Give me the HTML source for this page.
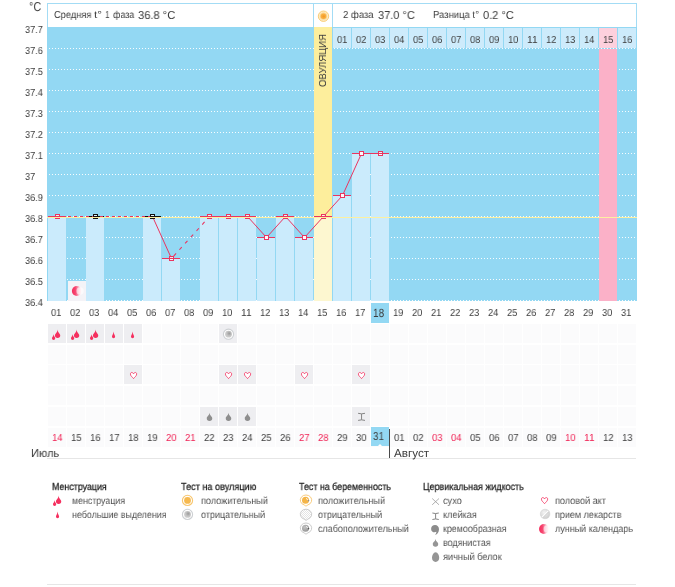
<!DOCTYPE html>
<html><head><meta charset="utf-8"><title>chart</title>
<style>
html,body{margin:0;padding:0;background:#fff;}
body{width:675px;height:587px;position:relative;overflow:hidden;font-family:"Liberation Sans",sans-serif;font-size:10px;color:#3c3c3c;}
.abs{position:absolute;}
.chart{position:absolute;left:0;top:0;}
.t{position:absolute;white-space:pre;transform-origin:0 0;line-height:1;will-change:transform;text-rendering:geometricPrecision;}
.hd{position:absolute;top:3px;height:24px;border:1px solid #a3dcf5;border-bottom:0;background:#fff;box-sizing:border-box;}
.cell{position:absolute;width:18px;height:19px;background:#fbfbfc;}
.cell.on{background:#eeeef1;}
</style></head><body>
<svg class="chart" width="675" height="330" viewBox="0 0 675 330" shape-rendering="crispEdges">
<rect x="47" y="27" width="590" height="274" fill="#93d8f3"/>
<line x1="49" y1="48.5" x2="636" y2="48.5" stroke="#ffffff" stroke-opacity="0.92" stroke-width="1" stroke-dasharray="1 2"/>
<line x1="49" y1="69.5" x2="636" y2="69.5" stroke="#ffffff" stroke-opacity="0.92" stroke-width="1" stroke-dasharray="1 2"/>
<line x1="49" y1="90.5" x2="636" y2="90.5" stroke="#ffffff" stroke-opacity="0.92" stroke-width="1" stroke-dasharray="1 2"/>
<line x1="49" y1="111.5" x2="636" y2="111.5" stroke="#ffffff" stroke-opacity="0.92" stroke-width="1" stroke-dasharray="1 2"/>
<line x1="49" y1="132.5" x2="636" y2="132.5" stroke="#ffffff" stroke-opacity="0.92" stroke-width="1" stroke-dasharray="1 2"/>
<line x1="49" y1="153.5" x2="636" y2="153.5" stroke="#ffffff" stroke-opacity="0.92" stroke-width="1" stroke-dasharray="1 2"/>
<line x1="49" y1="174.5" x2="636" y2="174.5" stroke="#ffffff" stroke-opacity="0.92" stroke-width="1" stroke-dasharray="1 2"/>
<line x1="49" y1="195.5" x2="636" y2="195.5" stroke="#ffffff" stroke-opacity="0.92" stroke-width="1" stroke-dasharray="1 2"/>
<line x1="49" y1="216.5" x2="636" y2="216.5" stroke="#ffffff" stroke-opacity="0.92" stroke-width="1" stroke-dasharray="1 2"/>
<line x1="49" y1="237.5" x2="636" y2="237.5" stroke="#ffffff" stroke-opacity="0.92" stroke-width="1" stroke-dasharray="1 2"/>
<line x1="49" y1="258.5" x2="636" y2="258.5" stroke="#ffffff" stroke-opacity="0.92" stroke-width="1" stroke-dasharray="1 2"/>
<line x1="49" y1="279.5" x2="636" y2="279.5" stroke="#ffffff" stroke-opacity="0.92" stroke-width="1" stroke-dasharray="1 2"/>
<line x1="49" y1="300.5" x2="636" y2="300.5" stroke="#ffffff" stroke-opacity="0.92" stroke-width="1" stroke-dasharray="1 2"/>
<rect x="314" y="27" width="18" height="274" fill="#fdee9c"/>
<rect x="599" y="49" width="18" height="252" fill="#fbb1c8"/>
<rect x="48" y="216" width="18" height="85" fill="#cbebfc"/>
<rect x="86" y="216" width="18" height="85" fill="#cbebfc"/>
<rect x="143" y="216" width="18" height="85" fill="#cbebfc"/>
<rect x="162" y="258" width="18" height="43" fill="#cbebfc"/>
<rect x="200" y="216" width="18" height="85" fill="#cbebfc"/>
<rect x="219" y="216" width="18" height="85" fill="#cbebfc"/>
<rect x="238" y="216" width="18" height="85" fill="#cbebfc"/>
<rect x="257" y="237" width="18" height="64" fill="#cbebfc"/>
<rect x="276" y="216" width="18" height="85" fill="#cbebfc"/>
<rect x="295" y="237" width="18" height="64" fill="#cbebfc"/>
<rect x="314" y="216" width="18" height="85" fill="#fdf7d0"/>
<rect x="333" y="195" width="18" height="106" fill="#cbebfc"/>
<rect x="352" y="153" width="18" height="148" fill="#cbebfc"/>
<rect x="371" y="153" width="18" height="148" fill="#cbebfc"/>
<rect x="333" y="28" width="18" height="20" fill="#cdebfb"/>
<rect x="352" y="28" width="18" height="20" fill="#cdebfb"/>
<rect x="371" y="28" width="18" height="20" fill="#cdebfb"/>
<rect x="390" y="28" width="18" height="20" fill="#cdebfb"/>
<rect x="409" y="28" width="18" height="20" fill="#cdebfb"/>
<rect x="428" y="28" width="18" height="20" fill="#cdebfb"/>
<rect x="447" y="28" width="18" height="20" fill="#cdebfb"/>
<rect x="466" y="28" width="18" height="20" fill="#cdebfb"/>
<rect x="485" y="28" width="18" height="20" fill="#cdebfb"/>
<rect x="504" y="28" width="18" height="20" fill="#cdebfb"/>
<rect x="523" y="28" width="18" height="20" fill="#cdebfb"/>
<rect x="542" y="28" width="18" height="20" fill="#cdebfb"/>
<rect x="561" y="28" width="18" height="20" fill="#cdebfb"/>
<rect x="580" y="28" width="18" height="20" fill="#cdebfb"/>
<rect x="599" y="28" width="18" height="20" fill="#fdd0dd"/>
<rect x="618" y="28" width="18" height="20" fill="#cdebfb"/>
<line x1="47" y1="217.5" x2="637" y2="217.5" stroke="#fdf0a0" stroke-width="1"/>
<line x1="48" y1="216.5" x2="66" y2="216.5" stroke="#ea3560" stroke-width="1"/>
<line x1="86" y1="216.5" x2="104" y2="216.5" stroke="#111" stroke-width="1"/>
<line x1="143" y1="216.5" x2="161" y2="216.5" stroke="#111" stroke-width="1"/>
<line x1="162" y1="258.5" x2="180" y2="258.5" stroke="#ea3560" stroke-width="1"/>
<line x1="200" y1="216.5" x2="218" y2="216.5" stroke="#ea3560" stroke-width="1"/>
<line x1="219" y1="216.5" x2="237" y2="216.5" stroke="#ea3560" stroke-width="1"/>
<line x1="238" y1="216.5" x2="256" y2="216.5" stroke="#ea3560" stroke-width="1"/>
<line x1="257" y1="237.5" x2="275" y2="237.5" stroke="#ea3560" stroke-width="1"/>
<line x1="276" y1="216.5" x2="294" y2="216.5" stroke="#ea3560" stroke-width="1"/>
<line x1="295" y1="237.5" x2="313" y2="237.5" stroke="#ea3560" stroke-width="1"/>
<line x1="314" y1="216.5" x2="332" y2="216.5" stroke="#ea3560" stroke-width="1"/>
<line x1="333" y1="195.5" x2="351" y2="195.5" stroke="#ea3560" stroke-width="1"/>
<line x1="352" y1="153.5" x2="370" y2="153.5" stroke="#ea3560" stroke-width="1"/>
<line x1="371" y1="153.5" x2="389" y2="153.5" stroke="#ea3560" stroke-width="1"/>
</svg>
<svg class="chart" width="675" height="330" viewBox="0 0 675 330">
<line x1="57.5" y1="216.5" x2="95.5" y2="216.5" stroke="#ea3560" stroke-width="1.1" stroke-dasharray="3 3" stroke-dashoffset="1.5" shape-rendering="crispEdges"/>
<line x1="95.5" y1="216.5" x2="152.5" y2="216.5" stroke="#ea3560" stroke-width="1.1" stroke-dasharray="3 3" stroke-dashoffset="1.5" shape-rendering="crispEdges"/>
<line x1="152.5" y1="216.5" x2="171.5" y2="258.5" stroke="#ea3560" stroke-width="1.0"/>
<line x1="171.5" y1="258.5" x2="209.5" y2="216.5" stroke="#ea3560" stroke-width="1.1" stroke-dasharray="3.5 5" stroke-dashoffset="5.2"/>
<line x1="209.5" y1="216.5" x2="228.5" y2="216.5" stroke="#ea3560" stroke-width="1.0"/>
<line x1="228.5" y1="216.5" x2="247.5" y2="216.5" stroke="#ea3560" stroke-width="1.0"/>
<line x1="247.5" y1="216.5" x2="266.5" y2="237.5" stroke="#ea3560" stroke-width="1.0"/>
<line x1="266.5" y1="237.5" x2="285.5" y2="216.5" stroke="#ea3560" stroke-width="1.0"/>
<line x1="285.5" y1="216.5" x2="304.5" y2="237.5" stroke="#ea3560" stroke-width="1.0"/>
<line x1="304.5" y1="237.5" x2="323.5" y2="216.5" stroke="#ea3560" stroke-width="1.0"/>
<line x1="323.5" y1="216.5" x2="342.5" y2="195.5" stroke="#ea3560" stroke-width="1.0"/>
<line x1="342.5" y1="195.5" x2="361.5" y2="153.5" stroke="#ea3560" stroke-width="1.0"/>
<line x1="361.5" y1="153.5" x2="380.5" y2="153.5" stroke="#ea3560" stroke-width="1.0"/>
<rect x="55.5" y="214.5" width="4" height="4" fill="#fff" fill-opacity="0.75" stroke="#ea3560" stroke-width="1" shape-rendering="crispEdges"/>
<line x1="55.5" y1="216.5" x2="59.5" y2="216.5" stroke="#ea3560" stroke-width="1" shape-rendering="crispEdges"/>
<line x1="54.5" y1="217.5" x2="60.5" y2="217.5" stroke="#fdf0a0" stroke-width="1" shape-rendering="crispEdges"/>
<rect x="93.5" y="214.5" width="4" height="4" fill="#fff" fill-opacity="0.75" stroke="#111" stroke-width="1" shape-rendering="crispEdges"/>
<line x1="93.5" y1="216.5" x2="97.5" y2="216.5" stroke="#111" stroke-width="1" shape-rendering="crispEdges"/>
<line x1="92.5" y1="217.5" x2="98.5" y2="217.5" stroke="#fdf0a0" stroke-width="1" shape-rendering="crispEdges"/>
<rect x="150.5" y="214.5" width="4" height="4" fill="#fff" fill-opacity="0.75" stroke="#111" stroke-width="1" shape-rendering="crispEdges"/>
<line x1="150.5" y1="216.5" x2="154.5" y2="216.5" stroke="#111" stroke-width="1" shape-rendering="crispEdges"/>
<line x1="149.5" y1="217.5" x2="155.5" y2="217.5" stroke="#fdf0a0" stroke-width="1" shape-rendering="crispEdges"/>
<rect x="169.5" y="256.5" width="4" height="4" fill="#fff" fill-opacity="0.75" stroke="#ea3560" stroke-width="1" shape-rendering="crispEdges"/>
<line x1="169.5" y1="258.5" x2="173.5" y2="258.5" stroke="#ea3560" stroke-width="1" shape-rendering="crispEdges"/>
<rect x="207.5" y="214.5" width="4" height="4" fill="#fff" fill-opacity="0.75" stroke="#ea3560" stroke-width="1" shape-rendering="crispEdges"/>
<line x1="207.5" y1="216.5" x2="211.5" y2="216.5" stroke="#ea3560" stroke-width="1" shape-rendering="crispEdges"/>
<line x1="206.5" y1="217.5" x2="212.5" y2="217.5" stroke="#fdf0a0" stroke-width="1" shape-rendering="crispEdges"/>
<rect x="226.5" y="214.5" width="4" height="4" fill="#fff" fill-opacity="0.75" stroke="#ea3560" stroke-width="1" shape-rendering="crispEdges"/>
<line x1="226.5" y1="216.5" x2="230.5" y2="216.5" stroke="#ea3560" stroke-width="1" shape-rendering="crispEdges"/>
<line x1="225.5" y1="217.5" x2="231.5" y2="217.5" stroke="#fdf0a0" stroke-width="1" shape-rendering="crispEdges"/>
<rect x="245.5" y="214.5" width="4" height="4" fill="#fff" fill-opacity="0.75" stroke="#ea3560" stroke-width="1" shape-rendering="crispEdges"/>
<line x1="245.5" y1="216.5" x2="249.5" y2="216.5" stroke="#ea3560" stroke-width="1" shape-rendering="crispEdges"/>
<line x1="244.5" y1="217.5" x2="250.5" y2="217.5" stroke="#fdf0a0" stroke-width="1" shape-rendering="crispEdges"/>
<rect x="264.5" y="235.5" width="4" height="4" fill="#fff" fill-opacity="0.95" stroke="#ea3560" stroke-width="1" shape-rendering="crispEdges"/>
<rect x="283.5" y="214.5" width="4" height="4" fill="#fff" fill-opacity="0.75" stroke="#ea3560" stroke-width="1" shape-rendering="crispEdges"/>
<line x1="283.5" y1="216.5" x2="287.5" y2="216.5" stroke="#ea3560" stroke-width="1" shape-rendering="crispEdges"/>
<line x1="282.5" y1="217.5" x2="288.5" y2="217.5" stroke="#fdf0a0" stroke-width="1" shape-rendering="crispEdges"/>
<rect x="302.5" y="235.5" width="4" height="4" fill="#fff" fill-opacity="0.95" stroke="#ea3560" stroke-width="1" shape-rendering="crispEdges"/>
<rect x="321.5" y="214.5" width="4" height="4" fill="#fff" fill-opacity="0.75" stroke="#ea3560" stroke-width="1" shape-rendering="crispEdges"/>
<line x1="321.5" y1="216.5" x2="325.5" y2="216.5" stroke="#ea3560" stroke-width="1" shape-rendering="crispEdges"/>
<line x1="320.5" y1="217.5" x2="326.5" y2="217.5" stroke="#fdf0a0" stroke-width="1" shape-rendering="crispEdges"/>
<rect x="340.5" y="193.5" width="4" height="4" fill="#fff" fill-opacity="0.95" stroke="#ea3560" stroke-width="1" shape-rendering="crispEdges"/>
<rect x="359.5" y="151.5" width="4" height="4" fill="#fff" fill-opacity="0.95" stroke="#ea3560" stroke-width="1" shape-rendering="crispEdges"/>
<rect x="378.5" y="151.5" width="4" height="4" fill="#fff" fill-opacity="0.75" stroke="#ea3560" stroke-width="1" shape-rendering="crispEdges"/>
<line x1="378.5" y1="153.5" x2="382.5" y2="153.5" stroke="#ea3560" stroke-width="1" shape-rendering="crispEdges"/>
</svg>
<div class="hd" style="left:47px;width:267px;"></div>
<div class="hd" style="left:313px;width:20px;"></div>
<div class="hd" style="left:332px;width:305px;"></div>
<div class="abs" style="left:371px;top:303px;width:18px;height:20px;background:#93d8f3;"></div>
<div class="cell on" style="left:48px;top:324px"></div>
<div class="cell on" style="left:67px;top:324px"></div>
<div class="cell on" style="left:86px;top:324px"></div>
<div class="cell on" style="left:105px;top:324px"></div>
<div class="cell on" style="left:124px;top:324px"></div>
<div class="cell" style="left:143px;top:324px"></div>
<div class="cell" style="left:162px;top:324px"></div>
<div class="cell" style="left:181px;top:324px"></div>
<div class="cell" style="left:200px;top:324px"></div>
<div class="cell on" style="left:219px;top:324px"></div>
<div class="cell" style="left:238px;top:324px"></div>
<div class="cell" style="left:257px;top:324px"></div>
<div class="cell" style="left:276px;top:324px"></div>
<div class="cell" style="left:295px;top:324px"></div>
<div class="cell" style="left:314px;top:324px"></div>
<div class="cell" style="left:333px;top:324px"></div>
<div class="cell" style="left:352px;top:324px"></div>
<div class="cell" style="left:371px;top:324px"></div>
<div class="cell" style="left:390px;top:324px"></div>
<div class="cell" style="left:409px;top:324px"></div>
<div class="cell" style="left:428px;top:324px"></div>
<div class="cell" style="left:447px;top:324px"></div>
<div class="cell" style="left:466px;top:324px"></div>
<div class="cell" style="left:485px;top:324px"></div>
<div class="cell" style="left:504px;top:324px"></div>
<div class="cell" style="left:523px;top:324px"></div>
<div class="cell" style="left:542px;top:324px"></div>
<div class="cell" style="left:561px;top:324px"></div>
<div class="cell" style="left:580px;top:324px"></div>
<div class="cell" style="left:599px;top:324px"></div>
<div class="cell" style="left:618px;top:324px"></div>
<div class="cell" style="left:48px;top:345px"></div>
<div class="cell" style="left:67px;top:345px"></div>
<div class="cell" style="left:86px;top:345px"></div>
<div class="cell" style="left:105px;top:345px"></div>
<div class="cell" style="left:124px;top:345px"></div>
<div class="cell" style="left:143px;top:345px"></div>
<div class="cell" style="left:162px;top:345px"></div>
<div class="cell" style="left:181px;top:345px"></div>
<div class="cell" style="left:200px;top:345px"></div>
<div class="cell" style="left:219px;top:345px"></div>
<div class="cell" style="left:238px;top:345px"></div>
<div class="cell" style="left:257px;top:345px"></div>
<div class="cell" style="left:276px;top:345px"></div>
<div class="cell" style="left:295px;top:345px"></div>
<div class="cell" style="left:314px;top:345px"></div>
<div class="cell" style="left:333px;top:345px"></div>
<div class="cell" style="left:352px;top:345px"></div>
<div class="cell" style="left:371px;top:345px"></div>
<div class="cell" style="left:390px;top:345px"></div>
<div class="cell" style="left:409px;top:345px"></div>
<div class="cell" style="left:428px;top:345px"></div>
<div class="cell" style="left:447px;top:345px"></div>
<div class="cell" style="left:466px;top:345px"></div>
<div class="cell" style="left:485px;top:345px"></div>
<div class="cell" style="left:504px;top:345px"></div>
<div class="cell" style="left:523px;top:345px"></div>
<div class="cell" style="left:542px;top:345px"></div>
<div class="cell" style="left:561px;top:345px"></div>
<div class="cell" style="left:580px;top:345px"></div>
<div class="cell" style="left:599px;top:345px"></div>
<div class="cell" style="left:618px;top:345px"></div>
<div class="cell" style="left:48px;top:365px"></div>
<div class="cell" style="left:67px;top:365px"></div>
<div class="cell" style="left:86px;top:365px"></div>
<div class="cell" style="left:105px;top:365px"></div>
<div class="cell on" style="left:124px;top:365px"></div>
<div class="cell" style="left:143px;top:365px"></div>
<div class="cell" style="left:162px;top:365px"></div>
<div class="cell" style="left:181px;top:365px"></div>
<div class="cell" style="left:200px;top:365px"></div>
<div class="cell on" style="left:219px;top:365px"></div>
<div class="cell on" style="left:238px;top:365px"></div>
<div class="cell" style="left:257px;top:365px"></div>
<div class="cell" style="left:276px;top:365px"></div>
<div class="cell on" style="left:295px;top:365px"></div>
<div class="cell" style="left:314px;top:365px"></div>
<div class="cell" style="left:333px;top:365px"></div>
<div class="cell on" style="left:352px;top:365px"></div>
<div class="cell" style="left:371px;top:365px"></div>
<div class="cell" style="left:390px;top:365px"></div>
<div class="cell" style="left:409px;top:365px"></div>
<div class="cell" style="left:428px;top:365px"></div>
<div class="cell" style="left:447px;top:365px"></div>
<div class="cell" style="left:466px;top:365px"></div>
<div class="cell" style="left:485px;top:365px"></div>
<div class="cell" style="left:504px;top:365px"></div>
<div class="cell" style="left:523px;top:365px"></div>
<div class="cell" style="left:542px;top:365px"></div>
<div class="cell" style="left:561px;top:365px"></div>
<div class="cell" style="left:580px;top:365px"></div>
<div class="cell" style="left:599px;top:365px"></div>
<div class="cell" style="left:618px;top:365px"></div>
<div class="cell" style="left:48px;top:386px"></div>
<div class="cell" style="left:67px;top:386px"></div>
<div class="cell" style="left:86px;top:386px"></div>
<div class="cell" style="left:105px;top:386px"></div>
<div class="cell" style="left:124px;top:386px"></div>
<div class="cell" style="left:143px;top:386px"></div>
<div class="cell" style="left:162px;top:386px"></div>
<div class="cell" style="left:181px;top:386px"></div>
<div class="cell" style="left:200px;top:386px"></div>
<div class="cell" style="left:219px;top:386px"></div>
<div class="cell" style="left:238px;top:386px"></div>
<div class="cell" style="left:257px;top:386px"></div>
<div class="cell" style="left:276px;top:386px"></div>
<div class="cell" style="left:295px;top:386px"></div>
<div class="cell" style="left:314px;top:386px"></div>
<div class="cell" style="left:333px;top:386px"></div>
<div class="cell" style="left:352px;top:386px"></div>
<div class="cell" style="left:371px;top:386px"></div>
<div class="cell" style="left:390px;top:386px"></div>
<div class="cell" style="left:409px;top:386px"></div>
<div class="cell" style="left:428px;top:386px"></div>
<div class="cell" style="left:447px;top:386px"></div>
<div class="cell" style="left:466px;top:386px"></div>
<div class="cell" style="left:485px;top:386px"></div>
<div class="cell" style="left:504px;top:386px"></div>
<div class="cell" style="left:523px;top:386px"></div>
<div class="cell" style="left:542px;top:386px"></div>
<div class="cell" style="left:561px;top:386px"></div>
<div class="cell" style="left:580px;top:386px"></div>
<div class="cell" style="left:599px;top:386px"></div>
<div class="cell" style="left:618px;top:386px"></div>
<div class="cell" style="left:48px;top:407px"></div>
<div class="cell" style="left:67px;top:407px"></div>
<div class="cell" style="left:86px;top:407px"></div>
<div class="cell" style="left:105px;top:407px"></div>
<div class="cell" style="left:124px;top:407px"></div>
<div class="cell" style="left:143px;top:407px"></div>
<div class="cell" style="left:162px;top:407px"></div>
<div class="cell" style="left:181px;top:407px"></div>
<div class="cell on" style="left:200px;top:407px"></div>
<div class="cell on" style="left:219px;top:407px"></div>
<div class="cell on" style="left:238px;top:407px"></div>
<div class="cell" style="left:257px;top:407px"></div>
<div class="cell" style="left:276px;top:407px"></div>
<div class="cell" style="left:295px;top:407px"></div>
<div class="cell" style="left:314px;top:407px"></div>
<div class="cell" style="left:333px;top:407px"></div>
<div class="cell on" style="left:352px;top:407px"></div>
<div class="cell" style="left:371px;top:407px"></div>
<div class="cell" style="left:390px;top:407px"></div>
<div class="cell" style="left:409px;top:407px"></div>
<div class="cell" style="left:428px;top:407px"></div>
<div class="cell" style="left:447px;top:407px"></div>
<div class="cell" style="left:466px;top:407px"></div>
<div class="cell" style="left:485px;top:407px"></div>
<div class="cell" style="left:504px;top:407px"></div>
<div class="cell" style="left:523px;top:407px"></div>
<div class="cell" style="left:542px;top:407px"></div>
<div class="cell" style="left:561px;top:407px"></div>
<div class="cell" style="left:580px;top:407px"></div>
<div class="cell" style="left:599px;top:407px"></div>
<div class="cell" style="left:618px;top:407px"></div>
<div class="cell" style="left:48px;top:428px"></div>
<div class="cell" style="left:67px;top:428px"></div>
<div class="cell" style="left:86px;top:428px"></div>
<div class="cell" style="left:105px;top:428px"></div>
<div class="cell" style="left:124px;top:428px"></div>
<div class="cell" style="left:143px;top:428px"></div>
<div class="cell" style="left:162px;top:428px"></div>
<div class="cell" style="left:181px;top:428px"></div>
<div class="cell" style="left:200px;top:428px"></div>
<div class="cell" style="left:219px;top:428px"></div>
<div class="cell" style="left:238px;top:428px"></div>
<div class="cell" style="left:257px;top:428px"></div>
<div class="cell" style="left:276px;top:428px"></div>
<div class="cell" style="left:295px;top:428px"></div>
<div class="cell" style="left:314px;top:428px"></div>
<div class="cell" style="left:333px;top:428px"></div>
<div class="cell" style="left:352px;top:428px"></div>
<div class="cell" style="left:371px;top:428px"></div>
<div class="cell" style="left:390px;top:428px"></div>
<div class="cell" style="left:409px;top:428px"></div>
<div class="cell" style="left:428px;top:428px"></div>
<div class="cell" style="left:447px;top:428px"></div>
<div class="cell" style="left:466px;top:428px"></div>
<div class="cell" style="left:485px;top:428px"></div>
<div class="cell" style="left:504px;top:428px"></div>
<div class="cell" style="left:523px;top:428px"></div>
<div class="cell" style="left:542px;top:428px"></div>
<div class="cell" style="left:561px;top:428px"></div>
<div class="cell" style="left:580px;top:428px"></div>
<div class="cell" style="left:599px;top:428px"></div>
<div class="cell" style="left:618px;top:428px"></div>
<div class="abs" style="left:371px;top:427px;width:18px;height:19px;background:#93d8f3;"></div>
<div class="abs" style="left:377.5px;top:444px;width:0;height:0;border-left:2.5px solid transparent;border-right:2.5px solid transparent;border-bottom:2.5px solid #fff;"></div>
<div class="abs" style="left:389px;top:429px;width:1px;height:29px;background:#4a4a4a;"></div>
<div class="abs" style="left:47px;top:458px;width:589px;height:1px;background:#e6e6e6;"></div>
<div class="abs" style="left:47px;top:584px;width:589px;height:1px;background:#e6e6e6;"></div>
<div class="abs" style="left:68px;top:281px;width:18px;height:20px;background:#f4f3f7;"></div>
<svg class="chart" width="675" height="587" viewBox="0 0 675 587"><defs><radialGradient id="gneg" cx="0.6" cy="0.4" r="0.7"><stop offset="0" stop-color="#9a9a9a"/><stop offset="0.5" stop-color="#c2c2c2"/><stop offset="1" stop-color="#d4d4d4"/></radialGradient><linearGradient id="gmoon" x1="0" x2="1" y1="0" y2="0" gradientUnits="objectBoundingBox"><stop offset="0" stop-color="#f5305f"/><stop offset="0.35" stop-color="#f6446f"/><stop offset="0.7" stop-color="#fbb3c4"/><stop offset="1" stop-color="#fff5f7"/></linearGradient><filter id="soft" x="-20%" y="-20%" width="140%" height="140%"><feGaussianBlur stdDeviation="0.35"/></filter><radialGradient id="gpill" cx="0.4" cy="0.35" r="0.75"><stop offset="0" stop-color="#f4f4f4"/><stop offset="1" stop-color="#c9c9c9"/></radialGradient><radialGradient id="gweak" cx="0.4" cy="0.35" r="0.75"><stop offset="0" stop-color="#c4c4c4"/><stop offset="1" stop-color="#8f8f8f"/></radialGradient><pattern id="chk" width="2" height="2" patternUnits="userSpaceOnUse"><rect width="2" height="2" fill="#fff"/><rect width="1" height="1" fill="#e4e4e4"/><rect x="1" y="1" width="1" height="1" fill="#e4e4e4"/></pattern></defs><path d="M53.60 334.20 C53.95 336.69 55.25 337.11 55.25 338.35 A1.65 1.65 0 0 1 51.95 338.35 C51.95 337.11 53.25 336.69 53.60 334.20Z" fill="#f5305f"/><path d="M57.60 329.40 C57.95 332.97 60.25 333.36 60.25 335.35 A2.65 2.65 0 0 1 54.95 335.35 C54.95 333.36 57.25 332.97 57.60 329.40Z" fill="#f5305f"/><path d="M72.60 334.20 C72.95 336.69 74.25 337.11 74.25 338.35 A1.65 1.65 0 0 1 70.95 338.35 C70.95 337.11 72.25 336.69 72.60 334.20Z" fill="#f5305f"/><path d="M76.60 329.40 C76.95 332.97 79.25 333.36 79.25 335.35 A2.65 2.65 0 0 1 73.95 335.35 C73.95 333.36 76.25 332.97 76.60 329.40Z" fill="#f5305f"/><path d="M91.60 334.20 C91.95 336.69 93.25 337.11 93.25 338.35 A1.65 1.65 0 0 1 89.95 338.35 C89.95 337.11 91.25 336.69 91.60 334.20Z" fill="#f5305f"/><path d="M95.60 329.40 C95.95 332.97 98.25 333.36 98.25 335.35 A2.65 2.65 0 0 1 92.95 335.35 C92.95 333.36 95.25 332.97 95.60 329.40Z" fill="#f5305f"/><path d="M113.55 331.60 C113.90 334.60 115.15 335.40 115.15 336.60 A1.60 1.60 0 0 1 111.95 336.60 C111.95 335.40 113.20 334.60 113.55 331.60Z" fill="#f5305f"/><path d="M132.55 331.60 C132.90 334.60 134.15 335.40 134.15 336.60 A1.60 1.60 0 0 1 130.95 336.60 C130.95 335.40 132.20 334.60 132.55 331.60Z" fill="#f5305f"/><circle cx="228.5" cy="334.2" r="5.1" fill="#fff" stroke="#cdd0d3" stroke-width="1.1"/><circle cx="228.5" cy="334.2" r="3.4" fill="url(#gneg)"/><path d="M133.55 373.9 C133.15 372.3 130.45000000000002 371.7 130.45000000000002 374.1 C130.45000000000002 376 132.55 377.2 133.55 378.6 C134.55 377.2 136.65 376 136.65 374.1 C136.65 371.7 133.95000000000002 372.3 133.55 373.9Z" fill="#fff" stroke="#f4456f" stroke-width="0.95" stroke-linejoin="round"/><path d="M228.55 373.9 C228.15 372.3 225.45000000000002 371.7 225.45000000000002 374.1 C225.45000000000002 376 227.55 377.2 228.55 378.6 C229.55 377.2 231.65 376 231.65 374.1 C231.65 371.7 228.95000000000002 372.3 228.55 373.9Z" fill="#fff" stroke="#f4456f" stroke-width="0.95" stroke-linejoin="round"/><path d="M247.55 373.9 C247.15 372.3 244.45000000000002 371.7 244.45000000000002 374.1 C244.45000000000002 376 246.55 377.2 247.55 378.6 C248.55 377.2 250.65 376 250.65 374.1 C250.65 371.7 247.95000000000002 372.3 247.55 373.9Z" fill="#fff" stroke="#f4456f" stroke-width="0.95" stroke-linejoin="round"/><path d="M304.55 373.9 C304.15000000000003 372.3 301.45 371.7 301.45 374.1 C301.45 376 303.55 377.2 304.55 378.6 C305.55 377.2 307.65000000000003 376 307.65000000000003 374.1 C307.65000000000003 371.7 304.95 372.3 304.55 373.9Z" fill="#fff" stroke="#f4456f" stroke-width="0.95" stroke-linejoin="round"/><path d="M361.55 373.9 C361.15000000000003 372.3 358.45 371.7 358.45 374.1 C358.45 376 360.55 377.2 361.55 378.6 C362.55 377.2 364.65000000000003 376 364.65000000000003 374.1 C364.65000000000003 371.7 361.95 372.3 361.55 373.9Z" fill="#fff" stroke="#f4456f" stroke-width="0.95" stroke-linejoin="round"/><path d="M209.50 412.70 C209.85 415.97 212.25 416.09 212.25 418.15 A2.75 2.75 0 0 1 206.75 418.15 C206.75 416.09 209.15 415.97 209.50 412.70Z" fill="#8e8e8e"/><path d="M228.50 412.70 C228.85 415.97 231.25 416.09 231.25 418.15 A2.75 2.75 0 0 1 225.75 418.15 C225.75 416.09 228.15 415.97 228.50 412.70Z" fill="#8e8e8e"/><path d="M247.50 412.70 C247.85 415.97 250.25 416.09 250.25 418.15 A2.75 2.75 0 0 1 244.75 418.15 C244.75 416.09 247.15 415.97 247.50 412.70Z" fill="#8e8e8e"/><path d="M358.1 413.3 Q361.55 414.40000000000003 365 413.3 M358.1 420.4 Q361.55 419.29999999999995 365 420.4 M361.55 413.90000000000003 V419.79999999999995" fill="none" stroke="#858585" stroke-width="1"/><g filter="url(#soft)"><circle cx="76.8" cy="291" r="4.9" fill="url(#gmoon)"/><circle cx="80.1" cy="291" r="3.63" fill="#fff" fill-opacity="0.6"/></g><path d="M54.60 500.20 C54.95 502.69 56.25 503.11 56.25 504.35 A1.65 1.65 0 0 1 52.95 504.35 C52.95 503.11 54.25 502.69 54.60 500.20Z" fill="#f5305f"/><path d="M58.60 495.40 C58.95 498.97 61.25 499.36 61.25 501.35 A2.65 2.65 0 0 1 55.95 501.35 C55.95 499.36 58.25 498.97 58.60 495.40Z" fill="#f5305f"/><path d="M57.55 511.60 C57.90 514.60 59.15 515.40 59.15 516.60 A1.60 1.60 0 0 1 55.95 516.60 C55.95 515.40 57.20 514.60 57.55 511.60Z" fill="#f5305f"/><circle cx="187.5" cy="500.4" r="5.1" fill="#fff" stroke="#f8c66f" stroke-width="1.1"/><circle cx="187.5" cy="500.4" r="3.4" fill="#f6b94f"/><circle cx="187.5" cy="514.4" r="5.1" fill="#fff" stroke="#cdd0d3" stroke-width="1.1"/><circle cx="187.5" cy="514.4" r="3.4" fill="url(#gneg)"/><path d="M306 506.2 L304.1 504.90 A5.7 5.1 0 1 1 307.9 504.90 Z" fill="#fff" stroke="#f8c66f" stroke-width="0.9" stroke-linejoin="round"/><circle cx="305.5" cy="500.3" r="3.5" fill="#f5b547"/><path d="M306 498.40000000000003 q1.6 0.2 1.6 1.9" fill="none" stroke="#fff" stroke-width="0.8"/><circle cx="308.5" cy="500.6" r="0.8" fill="#9a8f80"/><path d="M306 520.4 L304.1 519.10 A5.7 5.1 0 1 1 307.9 519.10 Z" fill="url(#chk)" stroke="#c6c6c6" stroke-width="0.9" stroke-linejoin="round"/><path d="M306 534.1999999999999 L304.1 532.90 A5.7 5.1 0 1 1 307.9 532.90 Z" fill="#fff" stroke="#c6c6c6" stroke-width="0.9" stroke-linejoin="round"/><circle cx="305.5" cy="528.3" r="3.5" fill="url(#gweak)"/><path d="M306 526.4 q1.6 0.2 1.6 1.9" fill="none" stroke="#fff" stroke-width="0.8"/><circle cx="308.5" cy="528.5999999999999" r="0.8" fill="#555"/><path d="M432.2 498.5 L439 504.8 M439 498.5 L432.2 504.8" stroke="#9c9c9c" stroke-width="0.8" fill="none"/><path d="M432.4 513 Q435.6 514.1 438.8 513 M432.4 519.5 Q435.6 518.4 438.8 519.5 M435.6 513.6 V518.9" fill="none" stroke="#858585" stroke-width="1"/><path d="M431.1 528.9 C431.1 526.4 432.8 524.9 435 524.9 C437.4 524.9 439 526.6 439 529.2 C439 532.2 437.4 534.2 435.1 534.9 C436 533.8 436.5 532.9 436.3 531.8 C434.8 532.9 431.1 532.3 431.1 528.9Z" fill="#8c8c8c"/><path d="M435.50 538.80 C435.85 541.98 438.20 542.07 438.20 544.10 A2.70 2.70 0 0 1 432.80 544.10 C432.80 542.07 435.15 541.98 435.50 538.80Z" fill="#959595"/><path d="M435.6 552.2 C437.8 552.2 439.2 555.6 439.2 557.8 C439.2 560.3 437.7 561.9 435.6 561.9 C433.5 561.9 432 560.3 432 557.8 C432 555.6 433.4 552.2 435.6 552.2Z" fill="#959595"/><path d="M544.55 499.0 C544.15 497.40000000000003 541.4499999999999 496.8 541.4499999999999 499.20000000000005 C541.4499999999999 501.1 543.55 502.3 544.55 503.70000000000005 C545.55 502.3 547.65 501.1 547.65 499.20000000000005 C547.65 496.8 544.9499999999999 497.40000000000003 544.55 499.0Z" fill="#fff" stroke="#f4456f" stroke-width="0.95" stroke-linejoin="round"/><circle cx="545.1" cy="514" r="4.8" fill="url(#gpill)" stroke="#cfcfcf" stroke-width="0.5"/><path d="M542 517.2 L548.3 510.9" stroke="#fff" stroke-width="1.3"/><path d="M542.6 517.8 L548.9 511.5" stroke="#bdbdbd" stroke-width="0.6"/><g filter="url(#soft)"><circle cx="543.9" cy="529" r="4.9" fill="url(#gmoon)"/><circle cx="547.1999999999999" cy="529" r="3.63" fill="#fff" fill-opacity="0.6"/></g></svg>
<svg class="chart" width="675" height="40" viewBox="0 0 675 40"><circle cx="323.5" cy="16.2" r="5.2" fill="#fdebc4" stroke="#f9c769" stroke-width="0.9"/><circle cx="323.5" cy="16.2" r="3.6" fill="#fbd38c"/><circle cx="323.5" cy="16.2" r="2.7" fill="#f8ad3c"/><circle cx="323.7" cy="16.4" r="1.2" fill="#f39a2a"/></svg>
<div class="abs" style="left:327.2px;top:87.4px;width:0;height:0;"><div class="t" id="ov" style="left:0;top:0;font-size:10.2px;transform:rotate(-90deg) scaleX(0.9316);transform-origin:0 0;"><span style="position:relative;top:-0.8em;">ОВУЛЯЦИЯ</span></div></div>
<div class="t" style="left:28.55px;top:0.20px;font-size:13px;color:#3c3c3c;transform:scaleX(0.8291);">°C</div>
<div class="t" style="left:24.65px;top:25.67px;font-size:10.2px;color:#3c3c3c;transform:scaleX(0.8977);">37.7</div>
<div class="t" style="left:24.65px;top:46.67px;font-size:10.2px;color:#3c3c3c;transform:scaleX(0.8977);">37.6</div>
<div class="t" style="left:24.65px;top:67.67px;font-size:10.2px;color:#3c3c3c;transform:scaleX(0.8977);">37.5</div>
<div class="t" style="left:24.65px;top:88.67px;font-size:10.2px;color:#3c3c3c;transform:scaleX(0.8977);">37.4</div>
<div class="t" style="left:24.65px;top:109.67px;font-size:10.2px;color:#3c3c3c;transform:scaleX(0.8977);">37.3</div>
<div class="t" style="left:24.65px;top:130.67px;font-size:10.2px;color:#3c3c3c;transform:scaleX(0.8977);">37.2</div>
<div class="t" style="left:24.65px;top:151.67px;font-size:10.2px;color:#3c3c3c;transform:scaleX(0.8977);">37.1</div>
<div class="t" style="left:24.65px;top:172.67px;font-size:10.2px;color:#3c3c3c;transform:scaleX(0.8904);">37</div>
<div class="t" style="left:24.65px;top:193.67px;font-size:10.2px;color:#3c3c3c;transform:scaleX(0.8977);">36.9</div>
<div class="t" style="left:24.65px;top:214.67px;font-size:10.2px;color:#3c3c3c;transform:scaleX(0.8977);">36.8</div>
<div class="t" style="left:24.65px;top:235.67px;font-size:10.2px;color:#3c3c3c;transform:scaleX(0.8977);">36.7</div>
<div class="t" style="left:24.65px;top:256.67px;font-size:10.2px;color:#3c3c3c;transform:scaleX(0.8977);">36.6</div>
<div class="t" style="left:24.65px;top:277.67px;font-size:10.2px;color:#3c3c3c;transform:scaleX(0.8977);">36.5</div>
<div class="t" style="left:24.65px;top:298.67px;font-size:10.2px;color:#3c3c3c;transform:scaleX(0.8977);">36.4</div>
<div class="t" style="left:54.25px;top:11.37px;font-size:10.2px;color:#3c3c3c;transform:scaleX(0.9105);">Средняя</div>
<div class="t" style="left:93.95px;top:11.37px;font-size:10.2px;color:#3c3c3c;transform:scaleX(1.1584);">t°</div>
<div class="t" style="left:105.35px;top:11.37px;font-size:10.2px;color:#3c3c3c;transform:scaleX(0.8110);">1</div>
<div class="t" style="left:113.05px;top:11.37px;font-size:10.2px;color:#3c3c3c;transform:scaleX(0.8813);">фаза</div>
<div class="t" style="left:138.45px;top:11.27px;font-size:11.5px;color:#3c3c3c;transform:scaleX(0.9666);">36.8 °C</div>
<div class="t" style="left:343.45px;top:11.37px;font-size:10.2px;color:#3c3c3c;transform:scaleX(0.9335);">2 фаза</div>
<div class="t" style="left:377.55px;top:11.27px;font-size:11.5px;color:#3c3c3c;transform:scaleX(0.9562);">37.0 °C</div>
<div class="t" style="left:433.25px;top:11.37px;font-size:10.2px;color:#3c3c3c;transform:scaleX(0.9323);">Разница t°</div>
<div class="t" style="left:482.75px;top:11.27px;font-size:11.5px;color:#3c3c3c;transform:scaleX(0.9597);">0.2 °C</div>
<div class="t" style="left:336.65px;top:36.07px;font-size:10.2px;color:#3c3c3c;transform:scaleX(0.9080);">01</div>
<div class="t" style="left:355.65px;top:36.07px;font-size:10.2px;color:#3c3c3c;transform:scaleX(0.9080);">02</div>
<div class="t" style="left:374.65px;top:36.07px;font-size:10.2px;color:#3c3c3c;transform:scaleX(0.9080);">03</div>
<div class="t" style="left:393.65px;top:36.07px;font-size:10.2px;color:#3c3c3c;transform:scaleX(0.9080);">04</div>
<div class="t" style="left:412.65px;top:36.07px;font-size:10.2px;color:#3c3c3c;transform:scaleX(0.9080);">05</div>
<div class="t" style="left:431.65px;top:36.07px;font-size:10.2px;color:#3c3c3c;transform:scaleX(0.9080);">06</div>
<div class="t" style="left:450.65px;top:36.07px;font-size:10.2px;color:#3c3c3c;transform:scaleX(0.9080);">07</div>
<div class="t" style="left:469.65px;top:36.07px;font-size:10.2px;color:#3c3c3c;transform:scaleX(0.9080);">08</div>
<div class="t" style="left:488.65px;top:36.07px;font-size:10.2px;color:#3c3c3c;transform:scaleX(0.9080);">09</div>
<div class="t" style="left:507.65px;top:36.07px;font-size:10.2px;color:#3c3c3c;transform:scaleX(0.9080);">10</div>
<div class="t" style="left:526.65px;top:36.07px;font-size:10.2px;color:#3c3c3c;transform:scaleX(0.9737);">11</div>
<div class="t" style="left:545.65px;top:36.07px;font-size:10.2px;color:#3c3c3c;transform:scaleX(0.9080);">12</div>
<div class="t" style="left:564.65px;top:36.07px;font-size:10.2px;color:#3c3c3c;transform:scaleX(0.9080);">13</div>
<div class="t" style="left:583.65px;top:36.07px;font-size:10.2px;color:#3c3c3c;transform:scaleX(0.9080);">14</div>
<div class="t" style="left:602.65px;top:36.07px;font-size:10.2px;color:#3c3c3c;transform:scaleX(0.9080);">15</div>
<div class="t" style="left:621.65px;top:36.07px;font-size:10.2px;color:#3c3c3c;transform:scaleX(0.9080);">16</div>
<div class="t" style="left:51.35px;top:309.07px;font-size:10.2px;color:#3c3c3c;transform:scaleX(0.9080);">01</div>
<div class="t" style="left:70.35px;top:309.07px;font-size:10.2px;color:#3c3c3c;transform:scaleX(0.9080);">02</div>
<div class="t" style="left:89.35px;top:309.07px;font-size:10.2px;color:#3c3c3c;transform:scaleX(0.9080);">03</div>
<div class="t" style="left:108.35px;top:309.07px;font-size:10.2px;color:#3c3c3c;transform:scaleX(0.9080);">04</div>
<div class="t" style="left:127.35px;top:309.07px;font-size:10.2px;color:#3c3c3c;transform:scaleX(0.9080);">05</div>
<div class="t" style="left:146.35px;top:309.07px;font-size:10.2px;color:#3c3c3c;transform:scaleX(0.9080);">06</div>
<div class="t" style="left:165.35px;top:309.07px;font-size:10.2px;color:#3c3c3c;transform:scaleX(0.9080);">07</div>
<div class="t" style="left:184.35px;top:309.07px;font-size:10.2px;color:#3c3c3c;transform:scaleX(0.9080);">08</div>
<div class="t" style="left:203.35px;top:309.07px;font-size:10.2px;color:#3c3c3c;transform:scaleX(0.9080);">09</div>
<div class="t" style="left:222.35px;top:309.07px;font-size:10.2px;color:#3c3c3c;transform:scaleX(0.9080);">10</div>
<div class="t" style="left:241.35px;top:309.07px;font-size:10.2px;color:#3c3c3c;transform:scaleX(0.9737);">11</div>
<div class="t" style="left:260.35px;top:309.07px;font-size:10.2px;color:#3c3c3c;transform:scaleX(0.9080);">12</div>
<div class="t" style="left:279.35px;top:309.07px;font-size:10.2px;color:#3c3c3c;transform:scaleX(0.9080);">13</div>
<div class="t" style="left:298.35px;top:309.07px;font-size:10.2px;color:#3c3c3c;transform:scaleX(0.9080);">14</div>
<div class="t" style="left:317.35px;top:309.07px;font-size:10.2px;color:#3c3c3c;transform:scaleX(0.9080);">15</div>
<div class="t" style="left:336.35px;top:309.07px;font-size:10.2px;color:#3c3c3c;transform:scaleX(0.9080);">16</div>
<div class="t" style="left:355.35px;top:309.07px;font-size:10.2px;color:#3c3c3c;transform:scaleX(0.9080);">17</div>
<div class="t" style="left:373.45px;top:307.34px;font-size:12px;color:#3c3c3c;transform:scaleX(0.8309);">18</div>
<div class="t" style="left:393.35px;top:309.07px;font-size:10.2px;color:#3c3c3c;transform:scaleX(0.9080);">19</div>
<div class="t" style="left:412.35px;top:309.07px;font-size:10.2px;color:#3c3c3c;transform:scaleX(0.9080);">20</div>
<div class="t" style="left:431.35px;top:309.07px;font-size:10.2px;color:#3c3c3c;transform:scaleX(0.9080);">21</div>
<div class="t" style="left:450.35px;top:309.07px;font-size:10.2px;color:#3c3c3c;transform:scaleX(0.9080);">22</div>
<div class="t" style="left:469.35px;top:309.07px;font-size:10.2px;color:#3c3c3c;transform:scaleX(0.9080);">23</div>
<div class="t" style="left:488.35px;top:309.07px;font-size:10.2px;color:#3c3c3c;transform:scaleX(0.9080);">24</div>
<div class="t" style="left:507.35px;top:309.07px;font-size:10.2px;color:#3c3c3c;transform:scaleX(0.9080);">25</div>
<div class="t" style="left:526.35px;top:309.07px;font-size:10.2px;color:#3c3c3c;transform:scaleX(0.9080);">26</div>
<div class="t" style="left:545.35px;top:309.07px;font-size:10.2px;color:#3c3c3c;transform:scaleX(0.9080);">27</div>
<div class="t" style="left:564.35px;top:309.07px;font-size:10.2px;color:#3c3c3c;transform:scaleX(0.9080);">28</div>
<div class="t" style="left:583.35px;top:309.07px;font-size:10.2px;color:#3c3c3c;transform:scaleX(0.9080);">29</div>
<div class="t" style="left:602.35px;top:309.07px;font-size:10.2px;color:#3c3c3c;transform:scaleX(0.9080);">30</div>
<div class="t" style="left:621.35px;top:309.07px;font-size:10.2px;color:#3c3c3c;transform:scaleX(0.9080);">31</div>
<div class="t" style="left:51.65px;top:434.07px;font-size:10.2px;color:#f01f52;transform:scaleX(0.9256);">14</div>
<div class="t" style="left:70.65px;top:434.07px;font-size:10.2px;color:#3c3c3c;transform:scaleX(0.9256);">15</div>
<div class="t" style="left:89.65px;top:434.07px;font-size:10.2px;color:#3c3c3c;transform:scaleX(0.9256);">16</div>
<div class="t" style="left:108.65px;top:434.07px;font-size:10.2px;color:#3c3c3c;transform:scaleX(0.9256);">17</div>
<div class="t" style="left:127.65px;top:434.07px;font-size:10.2px;color:#3c3c3c;transform:scaleX(0.9256);">18</div>
<div class="t" style="left:146.65px;top:434.07px;font-size:10.2px;color:#3c3c3c;transform:scaleX(0.9256);">19</div>
<div class="t" style="left:165.65px;top:434.07px;font-size:10.2px;color:#f01f52;transform:scaleX(0.9256);">20</div>
<div class="t" style="left:184.65px;top:434.07px;font-size:10.2px;color:#f01f52;transform:scaleX(0.9256);">21</div>
<div class="t" style="left:203.65px;top:434.07px;font-size:10.2px;color:#3c3c3c;transform:scaleX(0.9256);">22</div>
<div class="t" style="left:222.65px;top:434.07px;font-size:10.2px;color:#3c3c3c;transform:scaleX(0.9256);">23</div>
<div class="t" style="left:241.65px;top:434.07px;font-size:10.2px;color:#3c3c3c;transform:scaleX(0.9256);">24</div>
<div class="t" style="left:260.65px;top:434.07px;font-size:10.2px;color:#3c3c3c;transform:scaleX(0.9256);">25</div>
<div class="t" style="left:279.65px;top:434.07px;font-size:10.2px;color:#3c3c3c;transform:scaleX(0.9256);">26</div>
<div class="t" style="left:298.65px;top:434.07px;font-size:10.2px;color:#f01f52;transform:scaleX(0.9256);">27</div>
<div class="t" style="left:317.65px;top:434.07px;font-size:10.2px;color:#f01f52;transform:scaleX(0.9256);">28</div>
<div class="t" style="left:336.65px;top:434.07px;font-size:10.2px;color:#3c3c3c;transform:scaleX(0.9256);">29</div>
<div class="t" style="left:355.65px;top:434.07px;font-size:10.2px;color:#3c3c3c;transform:scaleX(0.9256);">30</div>
<div class="t" style="left:373.15px;top:431.57px;font-size:11.5px;color:#3c3c3c;transform:scaleX(0.8518);">31</div>
<div class="t" style="left:393.65px;top:434.07px;font-size:10.2px;color:#3c3c3c;transform:scaleX(0.9256);">01</div>
<div class="t" style="left:412.65px;top:434.07px;font-size:10.2px;color:#3c3c3c;transform:scaleX(0.9256);">02</div>
<div class="t" style="left:431.65px;top:434.07px;font-size:10.2px;color:#f01f52;transform:scaleX(0.9256);">03</div>
<div class="t" style="left:450.65px;top:434.07px;font-size:10.2px;color:#f01f52;transform:scaleX(0.9256);">04</div>
<div class="t" style="left:469.65px;top:434.07px;font-size:10.2px;color:#3c3c3c;transform:scaleX(0.9256);">05</div>
<div class="t" style="left:488.65px;top:434.07px;font-size:10.2px;color:#3c3c3c;transform:scaleX(0.9256);">06</div>
<div class="t" style="left:507.65px;top:434.07px;font-size:10.2px;color:#3c3c3c;transform:scaleX(0.9256);">07</div>
<div class="t" style="left:526.65px;top:434.07px;font-size:10.2px;color:#3c3c3c;transform:scaleX(0.9256);">08</div>
<div class="t" style="left:545.65px;top:434.07px;font-size:10.2px;color:#3c3c3c;transform:scaleX(0.9256);">09</div>
<div class="t" style="left:564.65px;top:434.07px;font-size:10.2px;color:#f01f52;transform:scaleX(0.9256);">10</div>
<div class="t" style="left:583.65px;top:434.07px;font-size:10.2px;color:#f01f52;transform:scaleX(0.9926);">11</div>
<div class="t" style="left:602.65px;top:434.07px;font-size:10.2px;color:#3c3c3c;transform:scaleX(0.9256);">12</div>
<div class="t" style="left:621.65px;top:434.07px;font-size:10.2px;color:#3c3c3c;transform:scaleX(0.9256);">13</div>
<div class="t" style="left:31.45px;top:449.07px;font-size:11.5px;color:#3c3c3c;transform:scaleX(0.9644);">Июль</div>
<div class="t" style="left:393.55px;top:449.07px;font-size:11.5px;color:#3c3c3c;transform:scaleX(1.0137);">Август</div>
<div class="t" style="left:51.85px;top:482.67px;font-size:10.2px;color:#1c1c1c;-webkit-text-stroke:0.25px #1c1c1c;transform:scaleX(0.8695);">Менструация</div>
<div class="t" style="left:71.65px;top:497.37px;font-size:10.2px;color:#505050;transform:scaleX(0.8663);">менструация</div>
<div class="t" style="left:71.65px;top:511.37px;font-size:10.2px;color:#505050;transform:scaleX(0.8708);">небольшие выделения</div>
<div class="t" style="left:180.65px;top:482.67px;font-size:10.2px;color:#1c1c1c;-webkit-text-stroke:0.25px #1c1c1c;transform:scaleX(0.8935);">Тест на овуляцию</div>
<div class="t" style="left:200.65px;top:497.37px;font-size:10.2px;color:#505050;transform:scaleX(0.8939);">положительный</div>
<div class="t" style="left:200.65px;top:511.37px;font-size:10.2px;color:#505050;transform:scaleX(0.8853);">отрицательный</div>
<div class="t" style="left:298.85px;top:482.67px;font-size:10.2px;color:#1c1c1c;-webkit-text-stroke:0.25px #1c1c1c;transform:scaleX(0.8728);">Тест на беременность</div>
<div class="t" style="left:318.45px;top:497.37px;font-size:10.2px;color:#505050;transform:scaleX(0.8965);">положительный</div>
<div class="t" style="left:318.45px;top:511.37px;font-size:10.2px;color:#505050;transform:scaleX(0.8853);">отрицательный</div>
<div class="t" style="left:318.45px;top:525.37px;font-size:10.2px;color:#505050;transform:scaleX(0.8820);">слабоположительный</div>
<div class="t" style="left:422.95px;top:482.67px;font-size:10.2px;color:#1c1c1c;-webkit-text-stroke:0.25px #1c1c1c;transform:scaleX(0.8759);">Цервикальная жидкость</div>
<div class="t" style="left:442.75px;top:497.37px;font-size:10.2px;color:#505050;transform:scaleX(0.8972);">сухо</div>
<div class="t" style="left:442.75px;top:511.37px;font-size:10.2px;color:#505050;transform:scaleX(0.8954);">клейкая</div>
<div class="t" style="left:442.75px;top:525.37px;font-size:10.2px;color:#505050;transform:scaleX(0.8726);">кремообразная</div>
<div class="t" style="left:442.75px;top:539.37px;font-size:10.2px;color:#505050;transform:scaleX(0.8757);">водянистая</div>
<div class="t" style="left:442.75px;top:553.37px;font-size:10.2px;color:#505050;transform:scaleX(0.9000);">яичный белок</div>
<div class="t" style="left:554.55px;top:497.37px;font-size:10.2px;color:#505050;transform:scaleX(0.8918);">половой акт</div>
<div class="t" style="left:554.55px;top:511.37px;font-size:10.2px;color:#505050;transform:scaleX(0.8846);">прием лекарств</div>
<div class="t" style="left:554.55px;top:525.37px;font-size:10.2px;color:#505050;transform:scaleX(0.8832);">лунный календарь</div>
</body></html>
